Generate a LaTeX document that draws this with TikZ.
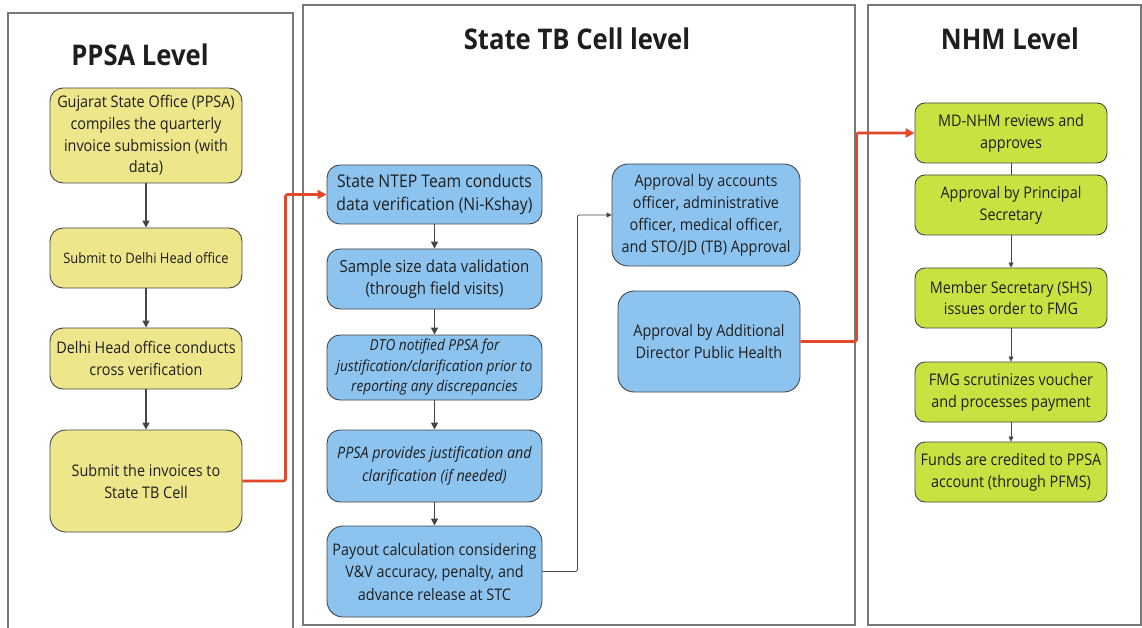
\documentclass[tikz,border=0pt]{standalone}
\usepackage{fontspec}
\setmainfont[FakeStretch=0.9]{Open Sans}
\usetikzlibrary{arrows.meta}
\definecolor{ylw}{RGB}{237,230,138}
\definecolor{blu}{RGB}{141,196,239}
\definecolor{grn}{RGB}{200,226,66}
\definecolor{redl}{RGB}{226,72,42}
\definecolor{edge}{RGB}{70,70,70}
\definecolor{panel}{RGB}{120,120,120}
\definecolor{txt}{RGB}{30,30,30}
\tikzset{
  box/.style={draw=edge, line width=0.9pt, rounded corners=13pt, align=center, inner sep=0pt, text=txt},
  ybox/.style={box, fill=ylw},
  bbox/.style={box, fill=blu},
  gbox/.style={box, fill=grn, rounded corners=10pt},
  pnl/.style={draw=panel, line width=1.3pt},
  ttl/.style={font=\fontsize{28.5}{32}\selectfont\bfseries, text=txt},
  flow/.style={draw=edge, line width=1.5pt, -{Triangle[length=7pt,width=7pt]}},
  thin/.style={draw=edge, line width=0.8pt, -{Triangle[length=5pt,width=5pt]}},
  redc/.style={draw=redl, line width=2.6pt, rounded corners=2pt, -{Triangle[length=9pt,width=9pt]}},
  grayc/.style={draw=edge, line width=0.8pt, rounded corners=2pt, -{Triangle[length=5pt,width=5pt]}},
}
\newcommand{\fs}[2]{\fontsize{#1}{#2}\selectfont}
\begin{document}
\begin{tikzpicture}[x=1pt,y=-1pt]
\useasboundingbox[fill=white] (0,0) rectangle (1142,628);
% panels
\draw[pnl] (8,640) -- (8,13) -- (293,13) -- (293,640);
\draw[pnl] (303,5) rectangle (855,625);
\draw[pnl] (868,5) rectangle (1141,625);
% titles
\node[ttl] (t1) at (140,55) {PPSA Level};
\node[ttl] (t2) at (577,39) {State TB Cell level};
\node[ttl] (t3) at (1010,39) {NHM Level};
% PPSA column
\node[ybox, minimum width=192pt, minimum height=95pt, font=\fs{16}{21.7}] (y1) at (146,135.5) {Gujarat State Office (PPSA)\\compiles the quarterly\\invoice submission (with\\data)};
\node[ybox, minimum width=192pt, minimum height=60pt, font=\fs{14.4}{21}] (y2) at (146,258) {Submit to Delhi Head office};
\node[ybox, minimum width=192pt, minimum height=61pt, font=\fs{16}{22}] (y3) at (146,358.5) {Delhi Head office conducts\\cross verification};
\node[ybox, minimum width=192pt, minimum height=102pt, rounded corners=16pt, font=\fs{16}{22}] (y4) at (146,481) {Submit the invoices to\\State TB Cell};
% State column
\node[bbox, minimum width=215pt, minimum height=59pt, font=\fs{17.5}{23}] (b1) at (434.5,194.5) {State NTEP Team conducts\\data verification (Ni-Kshay)};
\node[bbox, minimum width=215pt, minimum height=60pt, font=\fs{16.7}{21.5}] (b2) at (434.5,279) {Sample size data validation\\(through field visits)};
\node[bbox, minimum width=215pt, minimum height=65pt, font=\fs{15.2}{20.5}\itshape] (b3) at (434.5,367.5) {DTO notified PPSA for\\justification/clarification prior to\\reporting any discrepancies};
\node[bbox, minimum width=215pt, minimum height=72pt, font=\fs{15.9}{23}\itshape] (b4) at (434.5,466) {PPSA provides justification and\\clarification (if needed)};
\node[bbox, minimum width=215pt, minimum height=91pt, rounded corners=16pt, font=\fs{16}{22.5}] (b5) at (434.5,571.5) {Payout calculation considering\\V\&V accuracy, penalty, and\\advance release at STC};
\node[bbox, minimum width=188pt, minimum height=102pt, rounded corners=16pt, font=\fs{16}{22}] (a1) at (706,215) {Approval by accounts\\officer, administrative\\officer, medical officer,\\and STO/JD (TB) Approval};
\node[bbox, minimum width=182pt, minimum height=101pt, rounded corners=16pt, font=\fs{16}{22}] (a2) at (709,341.5) {Approval by Additional\\Director Public Health};
% NHM column
\node[gbox, minimum width=192pt, minimum height=60pt, font=\fs{16}{21.7}] (g1) at (1011,133) {MD-NHM reviews and\\approves};
\node[gbox, minimum width=192pt, minimum height=60pt, font=\fs{16}{21.7}] (g2) at (1011,205) {Approval by Principal\\Secretary};
\node[gbox, minimum width=192pt, minimum height=60pt, font=\fs{16}{21.7}] (g3) at (1011,298) {Member Secretary (SHS)\\issues order to FMG};
\node[gbox, minimum width=192pt, minimum height=60pt, font=\fs{16}{21.7}] (g4) at (1011,392) {FMG scrutinizes voucher\\and processes payment};
\node[gbox, minimum width=192pt, minimum height=60pt, font=\fs{16}{21.7}] (g5) at (1011,472) {Funds are credited to PPSA\\account (through PFMS)};
% connectors
\draw[flow] (y1) -- (y2);
\draw[flow] (y2) -- (y3);
\draw[flow] (y3) -- (y4);
\draw[flow] (b1) -- (b2);
\draw[flow] (b2) -- (b3);
\draw[flow] (b3) -- (b4);
\draw[flow] (b4) -- (b5);
\draw[edge, line width=0.8pt] (g1) -- (g2);
\draw[thin] (g2) -- (g3);
\draw[thin] (g3) -- (g4);
\draw[thin] (g4) -- (g5);
\draw[redc] (y4.east) -- ++(43,0) |- (b1.west);
\draw[grayc] (b5.east) -- ++(35,0) |- (a1.west);
\draw[redc] (a2.east) -- ++(56,0) |- (g1.west);
\end{tikzpicture}
\end{document}
